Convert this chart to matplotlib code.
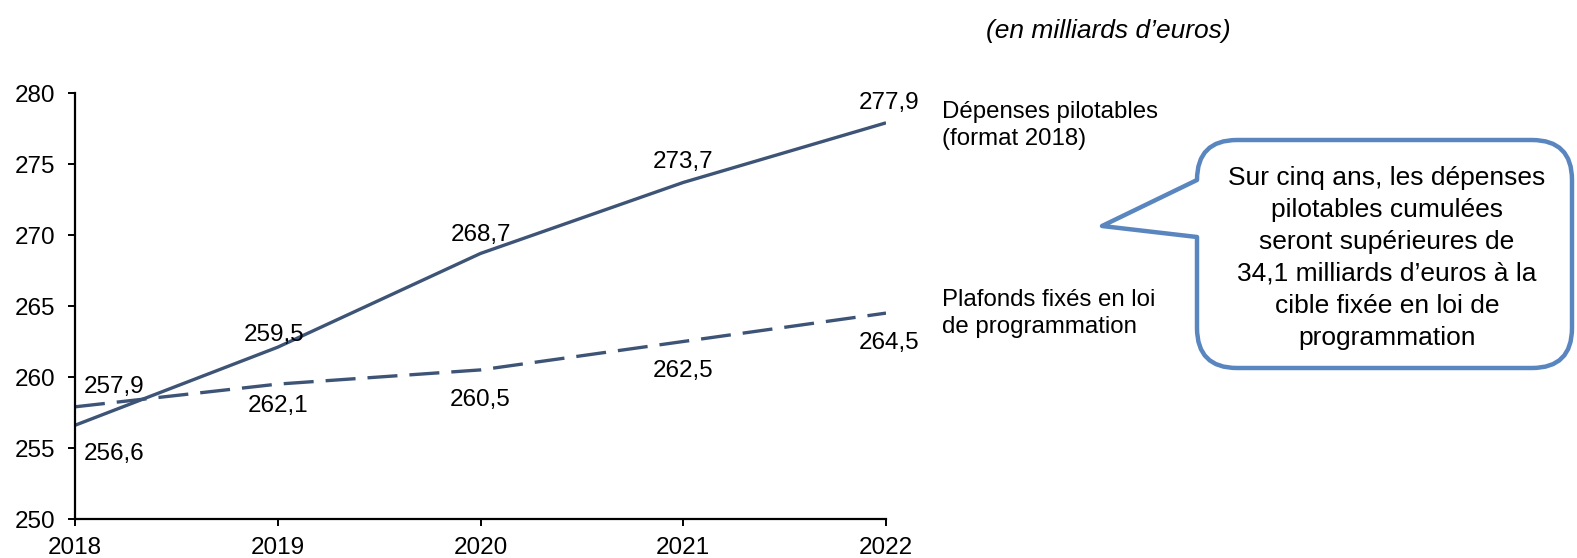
"""Dépenses pilotables vs plafonds de la loi de programmation."""

import matplotlib

matplotlib.use("Agg")
import matplotlib.pyplot as plt
from matplotlib.patches import PathPatch
from matplotlib.path import Path

years = [2018, 2019, 2020, 2021, 2022]
depenses = [256.6, 262.1, 268.7, 273.7, 277.9]
plafonds = [257.9, 259.5, 260.5, 262.5, 264.5]
# labels as printed on the original chart
depenses_labels = ["256,6", "259,5", "268,7", "273,7", "277,9"]
plafonds_labels = ["257,9", "262,1", "260,5", "262,5", "264,5"]
y_ticks = [250, 255, 260, 265, 270, 275, 280]

LINE = "#3d5476"
BOX = "#5a86c0"
FONT = "Liberation Sans"
LABEL_SIZE = 17.5

plt.rcParams["font.family"] = FONT
plt.rcParams["font.size"] = LABEL_SIZE

W, H = 1577, 558
fig = plt.figure(figsize=(W / 100, H / 100), dpi=100)
ax = fig.add_axes([75 / W, 1 - 519 / H, (886 - 75) / W, (519 - 93) / H])

ax.plot(years, depenses, color=LINE, linewidth=2.4, solid_capstyle="butt")
ax.plot(years, plafonds, color=LINE, linewidth=2.4, dashes=(9, 3.6))

ax.set_xlim(2018, 2022)
ax.set_ylim(250, 280)
ax.set_xticks(years)
ax.set_yticks(y_ticks)
for side in ["top", "right"]:
    ax.spines[side].set_visible(False)
for side in ["left", "bottom"]:
    ax.spines[side].set_linewidth(1.6)
ax.tick_params(axis="both", length=5, width=1.4, labelsize=LABEL_SIZE)
ax.tick_params(axis="y", pad=9)
ax.tick_params(axis="x", pad=8)

# offsets in points for each value label
dep_offsets = [(28, -21), (-3, 8.5), (0, 13.5), (0, 14.5), (2, 14.5)]
pla_offsets = [(28, 14.5), (0, -15.5), (0, -22), (0, -21.5), (2, -21.5)]
for x, y, lab, off in zip(years, depenses, depenses_labels, dep_offsets):
    ax.annotate(lab, (x, y), xytext=off, textcoords="offset points",
                ha="center", va="center", annotation_clip=False)
for x, y, lab, off in zip(years, plafonds, plafonds_labels, pla_offsets):
    ax.annotate(lab, (x, y), xytext=off, textcoords="offset points",
                ha="center", va="center", annotation_clip=False)

# overlay in pixel coordinates for the free text and the callout
ov = fig.add_axes([0, 0, 1, 1], zorder=-1)
ov.set_xlim(0, W)
ov.set_ylim(H, 0)
ov.axis("off")

ov.text(1108, 31, "(en milliards d\u2019euros)", style="italic", ha="center",
        va="center", fontsize=19)
ov.text(942, 101, "Dépenses pilotables\n(format 2018)", ha="left", va="top",
        fontsize=17.3, linespacing=1.3)
ov.text(942, 289, "Plafonds fixés en loi\nde programmation", ha="left", va="top",
        fontsize=17.3, linespacing=1.3)

x0, x1, y0, y1, r = 1197, 1572, 140, 368, 40
tip = (1102, 226)
verts = [
    (x0 + r, y0), (x1 - r, y0), (x1, y0), (x1, y0 + r),
    (x1, y1 - r), (x1, y1), (x1 - r, y1),
    (x0 + r, y1), (x0, y1), (x0, y1 - r),
    (x0, 237), tip, (x0, 180),
    (x0, y0 + r), (x0, y0), (x0 + r, y0), (x0 + r, y0),
]
codes = [
    Path.MOVETO, Path.LINETO, Path.CURVE3, Path.CURVE3,
    Path.LINETO, Path.CURVE3, Path.CURVE3,
    Path.LINETO, Path.CURVE3, Path.CURVE3,
    Path.LINETO, Path.LINETO, Path.LINETO,
    Path.LINETO, Path.CURVE3, Path.CURVE3, Path.CLOSEPOLY,
]
ov.add_patch(PathPatch(Path(verts, codes), facecolor="white", edgecolor=BOX,
                       linewidth=3.2, joinstyle="round"))
ov.text(1387, 258,
        "Sur cinq ans, les dépenses\npilotables cumulées\nseront supérieures de\n"
        "34,1 milliards d\u2019euros à la\ncible fixée en loi de\nprogrammation",
        ha="center", va="center", fontsize=19, linespacing=1.42)

fig.savefig("out.png", dpi=100)
